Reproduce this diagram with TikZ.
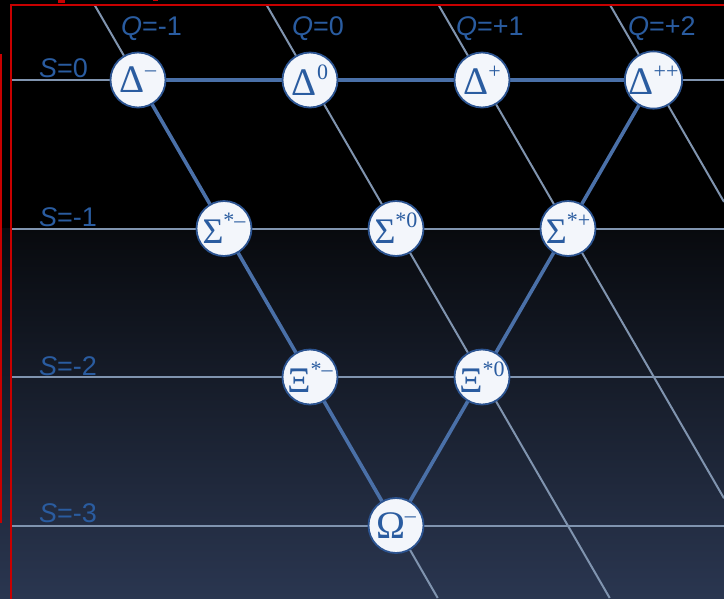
\documentclass[tikz,border=0pt]{standalone}
\usepackage{fontspec}
\setmainfont{Liberation Sans}
\newfontfamily\greekfont{Liberation Serif}
\definecolor{labelblue}{RGB}{42,92,160}
\definecolor{gridgrey}{RGB}{128,148,175}
\definecolor{edgeblue}{RGB}{74,112,168}
\definecolor{ringblue}{RGB}{44,84,145}
\definecolor{discfill}{RGB}{243,246,251}
\definecolor{framered}{RGB}{200,0,0}
\definecolor{bgtop}{RGB}{8,10,14}
\definecolor{bgbottom}{RGB}{42,54,80}
% particle symbol: large serif letter with a raised charge tag
\newcommand{\particle}[3][36]{{\greekfont\fontsize{#1}{#1}\selectfont #2}\raisebox{16pt}{\greekfont\fontsize{22}{22}\selectfont #3}}
\pgfdeclarelayer{backdrop}
\pgfdeclarelayer{lines}
\pgfsetlayers{backdrop,lines,main}
\tikzset{
  baryon/.style={circle, minimum size=55pt, inner sep=0pt, fill=discfill,
    draw=ringblue, line width=1.8pt, text=labelblue},
  gridline/.style={draw=gridgrey, line width=2pt},
  edgeline/.style={draw=edgeblue, line width=3.6pt},
  axislabel/.style={anchor=base west, inner sep=0pt, text=labelblue,
    font=\fontsize{27}{27}\selectfont}
}
\begin{document}
\begin{tikzpicture}[x=1pt,y=-1pt]
\useasboundingbox (0,0) rectangle (724,598);
\clip (0,0) rectangle (724,598);

% backdrop: black upper part, dark slate gradient below
\begin{pgfonlayer}{backdrop}
  \fill[black] (0,0) rectangle (724,229);
  \shade[top color=bgtop, bottom color=bgbottom] (0,228.5) rectangle (724,598);
\end{pgfonlayer}

% frame
\draw[framered, line width=2.4pt] (11,610) -- (11,4.7) -- (740,4.7);
\draw[framered, line width=2pt] (-5,55) -- (1.2,55) -- (1.2,522) -- (-5,522);
\fill[framered] (58,0) rectangle (65,3);
\fill[framered] (153,0) rectangle (158,1.2);

% baryon decuplet
\node[baryon] (dm)  at (138,80)    {\particle[39]{Δ}{–}};
\node[baryon] (dz)  at (310,80)    {\particle[39]{Δ}{0}};
\node[baryon] (dp)  at (482,80)    {\particle[39]{Δ}{+}};
\node[baryon] (dpp) at (653.5,80)  {\particle[39]{Δ}{++}};
\node[baryon] (sm)  at (224,228.5) {\particle{Σ}{*–}};
\node[baryon] (sz)  at (396,228.5) {\particle{Σ}{*0}};
\node[baryon] (sp)  at (568,228.5) {\particle{Σ}{*+}};
\node[baryon] (xm)  at (310,377)   {\particle{Ξ}{*–}};
\node[baryon] (xz)  at (482,377)   {\particle{Ξ}{*0}};
\node[baryon] (om)  at (396,525.5) {\particle[39]{Ω}{–}};

% line ends at the frame and page edges
\coordinate (s0l) at (12,80);    \coordinate (s0r) at (724,80);
\coordinate (s1l) at (12,228.5); \coordinate (s1r) at (724,228.5);
\coordinate (s2l) at (12,377);   \coordinate (s2r) at (724,377);
\coordinate (s3l) at (12,525.5); \coordinate (s3r) at (724,525.5);
\coordinate (qm1t) at (94.6,5);  \coordinate (qm1b) at (437.7,598);
\coordinate (q0t)  at (266.6,5); \coordinate (q0b)  at (609.7,598);
\coordinate (q1t)  at (438.6,5); \coordinate (q1b)  at (724,498.3);
\coordinate (q2t)  at (610.1,5); \coordinate (q2b)  at (724,201.9);

\begin{pgfonlayer}{lines}
  % strangeness rows
  \draw[gridline] (s0l) -- (dm.center) -- (dz.center) -- (dp.center) -- (dpp.center) -- (s0r);
  \draw[gridline] (s1l) -- (sm.center) -- (sz.center) -- (sp.center) -- (s1r);
  \draw[gridline] (s2l) -- (xm.center) -- (xz.center) -- (s2r);
  \draw[gridline] (s3l) -- (om.center) -- (s3r);
  % charge lines
  \draw[gridline] (qm1t) -- (dm.center) -- (sm.center) -- (xm.center) -- (om.center) -- (qm1b);
  \draw[gridline] (q0t) -- (dz.center) -- (sz.center) -- (xz.center) -- (q0b);
  \draw[gridline] (q1t) -- (dp.center) -- (sp.center) -- (q1b);
  \draw[gridline] (q2t) -- (dpp.center) -- (q2b);
  % triangle outline
  \draw[edgeline] (dm.center) -- (dpp.center);
  \draw[edgeline] (dm.center) -- (om.center);
  \draw[edgeline] (dpp.center) -- (om.center);
\end{pgfonlayer}

% axis labels
\node[axislabel] (lq1) at (121,35) {\textit{Q}=-1};
\node[axislabel] (lq2) at (292,35) {\textit{Q}=0};
\node[axislabel] (lq3) at (456,35) {\textit{Q}=+1};
\node[axislabel] (lq4) at (628,35) {\textit{Q}=+2};
\node[axislabel] (ls1) at (39,77)  {\textit{S}=0};
\node[axislabel] (ls2) at (39,226) {\textit{S}=-1};
\node[axislabel] (ls3) at (39,375) {\textit{S}=-2};
\node[axislabel] (ls4) at (39,522) {\textit{S}=-3};
\end{tikzpicture}
\end{document}
